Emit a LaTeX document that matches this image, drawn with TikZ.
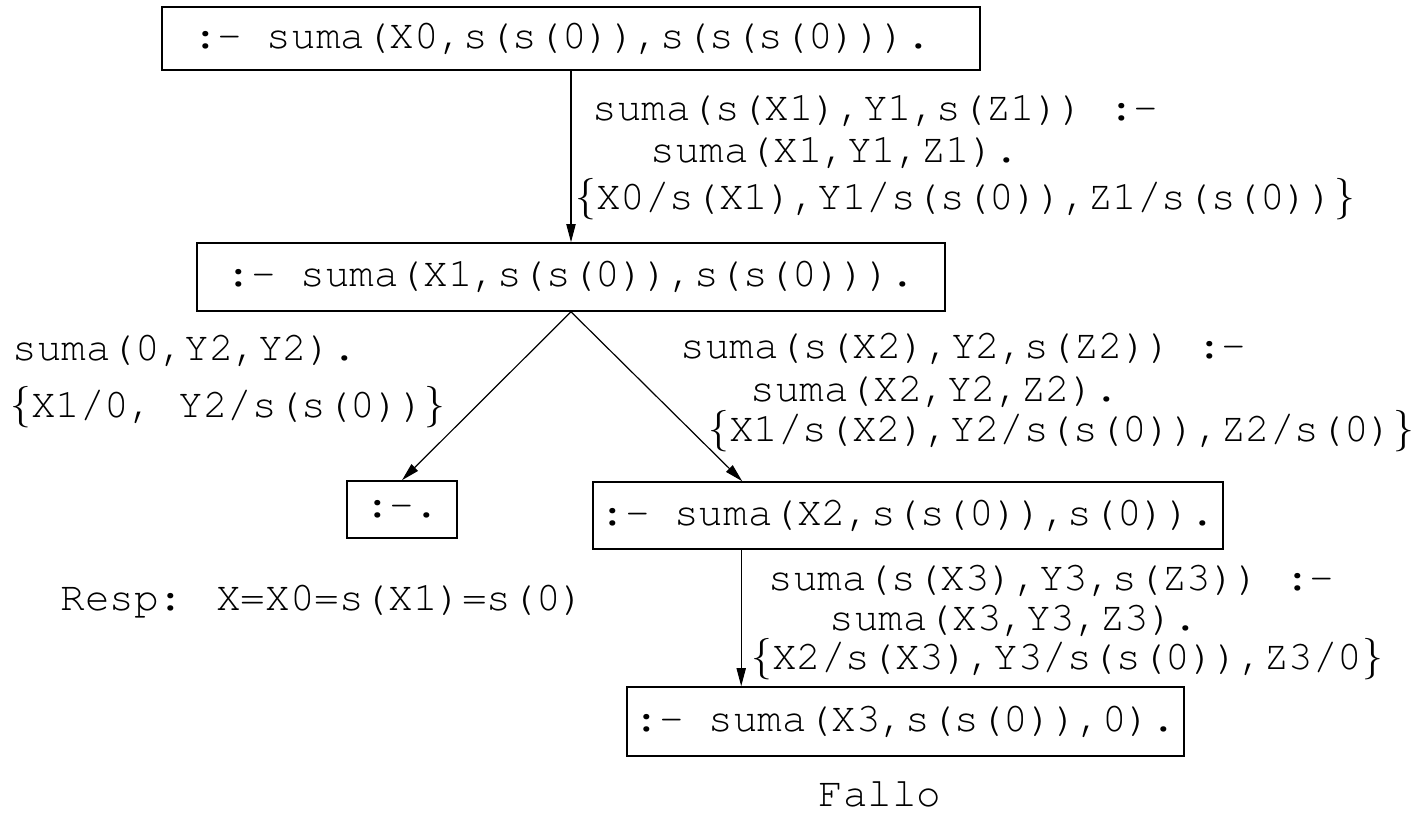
\documentclass[tikz,border=0pt]{standalone}
\usepackage{fontspec}
\usepackage{amsmath}
\usepackage{tikz}
\usetikzlibrary{arrows.meta, positioning}
\newfontfamily\courfont{texgyrecursor-regular.otf}

\begin{document}
\begin{tikzpicture}[x=0.5pt, y=-0.5pt,
    every node/.style={font=\courfont\fontsize{20.5}{24}\selectfont, inner sep=0pt},
    goal/.style={draw, line width=0.8pt, rectangle},
    lbl/.style={anchor=base west},
    arr/.style={line width=0.6pt, -{Triangle[length=9pt, width=4.6pt]}}]
            \useasboundingbox (0,0) rectangle (1419,820);
            % Define nodes for goals
            \node[goal, minimum width=409pt, minimum height=31.5pt] (goal-0) at (571, 38.5) {:- suma(X0,s(s(0)),s(s(s(0))).\hspace*{9pt}};
            \node[goal, minimum width=374pt, minimum height=34pt] (goal-1) at (571, 277) {:- suma(X1,s(s(0)),s(s(0))).};
            \node[goal, minimum width=55pt, minimum height=28.5pt] (goal-2) at (402, 509.5) {:-.};
            \node[goal, minimum width=315pt, minimum height=33.5pt] (goal-3) at (908, 515.5) {:- suma(X2,s(s(0)),s(0)).};
            \node[goal, minimum width=278.5pt, minimum height=34.5pt] (goal-4) at (905.5, 721.5) {:- suma(X3,s(s(0)),0).};
            % Clauses and substitutions
            \node[lbl] (rule-1a) at (592, 120) {suma(s(X1),Y1,s(Z1)) :-};
            \node[lbl] (rule-1b) at (650, 162) {suma(X1,Y1,Z1).};
            \node[lbl] (rule-1c) at (575, 209) {$\{$X0/s(X1),Y1/s(s(0)),Z1/s(s(0))$\}$};
            \node[lbl] (rule-2a) at (12, 360) {suma(0,Y2,Y2).};
            \node[lbl] (rule-2b) at (10, 417) {$\{$X1/0, Y2/s(s(0))$\}$};
            \node[lbl] (rule-3a) at (680, 358) {suma(s(X2),Y2,s(Z2)) :-};
            \node[lbl] (rule-3b) at (750, 401) {suma(X2,Y2,Z2).};
            \node[lbl] (rule-3c) at (708, 441) {$\{$X1/s(X2),Y2/s(s(0)),Z2/s(0)$\}$};
            \node[lbl] (rule-4a) at (768, 590) {suma(s(X3),Y3,s(Z3)) :-};
            \node[lbl] (rule-4b) at (829, 630) {suma(X3,Y3,Z3).};
            \node[lbl] (rule-4c) at (751, 669) {$\{$X2/s(X3),Y3/s(s(0)),Z3/0$\}$};
            % Output values
            \node[lbl] (resp) at (60, 610) {Resp: X=X0=s(X1)=s(0)};
            \node[anchor=base] (fallo) at (880, 806) {Fallo};
            % Resolution steps
            \draw[arr] (goal-0.south) -- (goal-0.south |- goal-1.north);
            \draw[arr] (goal-1.south) -- (goal-2.north);
            \draw[arr] (goal-1.south) -- ([xshift=75pt]goal-3.north west);
            \draw[arr] ([xshift=74.5pt]goal-3.south west) -- ([xshift=74.5pt]goal-3.south west |- goal-4.north);
        \end{tikzpicture}
\end{document}
